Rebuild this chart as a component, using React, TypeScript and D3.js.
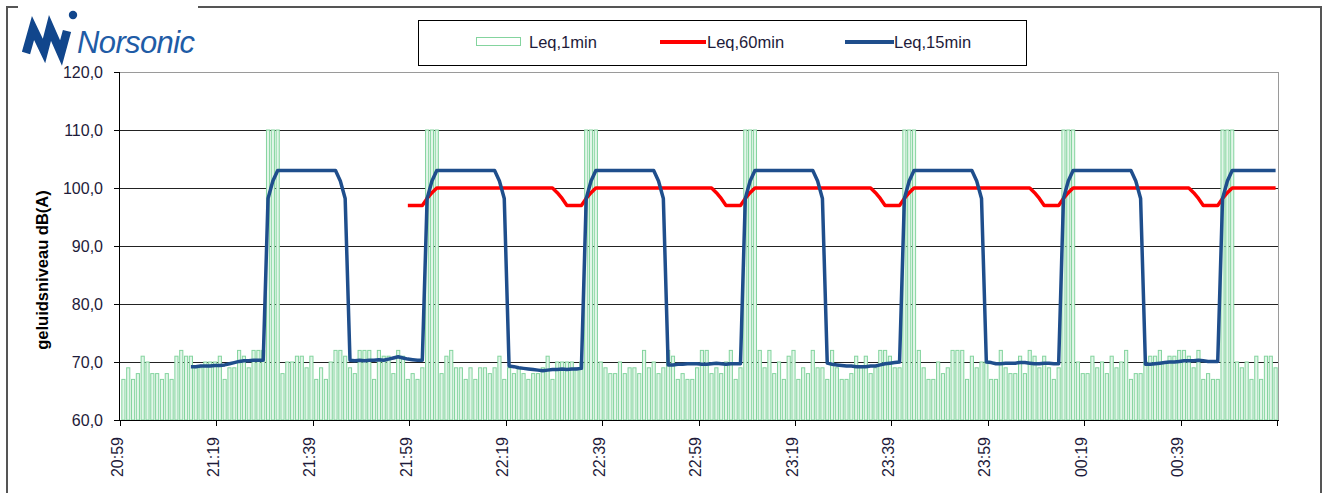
import React from "react";
import * as d3 from "d3";

// Leq,1min values (one bar per minute, 20:59 .. 00:58)
const leq1min: number[] = [
  67, 69, 67, 68, 71, 70, 68, 68, 67, 68,
  67, 71, 72, 71, 71, 69, 69, 70, 70, 70,
  71, 67, 69, 69, 72, 71, 69, 72, 72, 72,
  110, 110, 110, 68, 70, 70, 71, 71, 69, 71,
  67, 69, 67, 70, 72, 72, 71, 69, 68, 72,
  72, 72, 67, 72, 71, 71, 68, 72, 71, 67,
  68, 67, 69, 110, 110, 110, 68, 71, 72, 69,
  69, 67, 69, 67, 69, 69, 68, 69, 71, 67,
  69, 68, 69, 68, 67, 68, 68, 69, 71, 67,
  70, 70, 70, 70, 69, 70, 110, 110, 110, 70,
  69, 68, 68, 70, 68, 69, 69, 68, 72, 69,
  70, 68, 69, 72, 71, 67, 68, 67, 67, 69,
  72, 72, 68, 69, 68, 70, 72, 67, 69, 110,
  110, 110, 72, 69, 72, 68, 70, 67, 71, 72,
  67, 69, 68, 72, 69, 69, 67, 72, 69, 67,
  67, 68, 71, 69, 71, 68, 69, 72, 72, 71,
  69, 69, 110, 110, 110, 72, 69, 67, 67, 70,
  68, 69, 72, 72, 72, 67, 71, 69, 70, 70,
  67, 67, 72, 69, 68, 68, 71, 68, 72, 71,
  69, 71, 69, 67, 69, 110, 110, 110, 70, 68,
  68, 71, 69, 70, 68, 71, 69, 70, 72, 67,
  68, 68, 70, 71, 71, 72, 70, 71, 71, 72,
  72, 71, 69, 72, 67, 68, 67, 67, 110, 110,
  110, 70, 69, 70, 67, 71, 67, 71, 71, 69,
];

// Leq,15min: first value at minute index 14
const leq15Start = 14;
const leq15min: number[] = [
  69.2, 69.2, 69.3, 69.3, 69.3, 69.4, 69.4, 69.5, 69.7, 69.9, 70.1, 70.2, 70.2, 70.3, 70.3, 70.3,
  98.2, 101.2, 103, 103, 103, 103, 103, 103, 103, 103, 103, 103, 103, 103, 103, 101.2, 98.2,
  70.3, 70.2, 70.3, 70.2, 70.3, 70.3, 70.4, 70.3, 70.5, 70.7, 70.9, 70.7, 70.5, 70.4, 70.3, 70.3,
  98.2, 101.2, 103, 103, 103, 103, 103, 103, 103, 103, 103, 103, 103, 103, 103, 101.2, 98.2,
  69.3, 69.2, 69.0, 68.9, 68.8, 68.7, 68.6, 68.5, 68.6, 68.7, 68.7, 68.8, 68.7, 68.8, 68.8, 68.9,
  98.2, 101.2, 103, 103, 103, 103, 103, 103, 103, 103, 103, 103, 103, 103, 103, 101.2, 98.2,
  69.5, 69.5, 69.6, 69.6, 69.7, 69.7, 69.7, 69.6, 69.6, 69.7, 69.8, 69.7, 69.6, 69.7, 69.7, 69.7,
  98.2, 101.2, 103, 103, 103, 103, 103, 103, 103, 103, 103, 103, 103, 103, 103, 101.2, 98.2,
  69.8, 69.6, 69.5, 69.4, 69.3, 69.3, 69.2, 69.2, 69.2, 69.3, 69.3, 69.5, 69.7, 69.8, 69.9, 70.0,
  98.2, 101.2, 103, 103, 103, 103, 103, 103, 103, 103, 103, 103, 103, 103, 103, 101.2, 98.2,
  70.0, 69.9, 69.7, 69.7, 69.8, 69.8, 69.8, 69.9, 69.9, 69.8, 69.7, 69.7, 69.8, 69.8, 69.7, 69.7,
  98.2, 101.2, 103, 103, 103, 103, 103, 103, 103, 103, 103, 103, 103, 103, 103, 101.2, 98.2,
  69.6, 69.6, 69.7, 69.8, 69.9, 70.0, 70.0, 70.1, 70.2, 70.2, 70.2, 70.3, 70.2, 70.1, 70.1, 70.1,
  98.2, 101.2, 103, 103, 103, 103, 103, 103, 103, 103, 103, 103,
];

// Leq,60min: first value at minute index 59
const leq60Start = 59;
const leq60min: number[] = [
  97, 97, 97, 97, 98.2, 99.2,
  100, 100, 100, 100, 100, 100, 100, 100, 100, 100, 100, 100, 100, 100, 100, 100, 100, 100, 100, 100, 100, 100, 100, 100, 100,
  99.2, 98.2, 97, 97, 97, 97, 98.2, 99.2,
  100, 100, 100, 100, 100, 100, 100, 100, 100, 100, 100, 100, 100, 100, 100, 100, 100, 100, 100, 100, 100, 100, 100, 100, 100,
  99.2, 98.2, 97, 97, 97, 97, 98.2, 99.2,
  100, 100, 100, 100, 100, 100, 100, 100, 100, 100, 100, 100, 100, 100, 100, 100, 100, 100, 100, 100, 100, 100, 100, 100, 100,
  99.2, 98.2, 97, 97, 97, 97, 98.2, 99.2,
  100, 100, 100, 100, 100, 100, 100, 100, 100, 100, 100, 100, 100, 100, 100, 100, 100, 100, 100, 100, 100, 100, 100, 100, 100,
  99.2, 98.2, 97, 97, 97, 97, 98.2, 99.2,
  100, 100, 100, 100, 100, 100, 100, 100, 100, 100, 100, 100, 100, 100, 100, 100, 100, 100, 100, 100, 100, 100, 100, 100, 100,
  99.2, 98.2, 97, 97, 97, 97, 98.2, 99.2,
  100, 100, 100, 100, 100, 100, 100, 100, 100, 100,
];

const xTickLabels = [
  "20:59", "21:19", "21:39", "21:59", "22:19", "22:39",
  "22:59", "23:19", "23:39", "23:59", "00:19", "00:39",
];
const yTicks = [60, 70, 80, 90, 100, 110, 120];

const W = 1328;
const H = 493;
const left = 121;
const right = 1278;
const top = 72;
const bottom = 420;
const FONT = "'Liberation Sans', Arial, sans-serif";

export default function App() {
  const idx = d3.range(leq1min.length);
  const x = d3.scaleBand<number>().domain(idx).range([left, right]).paddingInner(0.14).paddingOuter(0.07);
  const y = d3.scaleLinear().domain([60, 120]).range([bottom, top]);
  const cx = (i: number) => (x(i) as number) + x.bandwidth() / 2;
  const tickX = (i: number) => left + i * ((right - left) / leq1min.length);

  const line = d3
    .line<[number, number]>()
    .x((d) => cx(d[0]))
    .y((d) => y(d[1]))
    .curve(d3.curveLinear);

  const l15: [number, number][] = leq15min.map((v, k) => [k + leq15Start, v]);
  const l60: [number, number][] = leq60min.map((v, k) => [k + leq60Start, v]);
  const fmt = (v: number) => d3.format(".1f")(v).replace(".", ",");
  const textColor = "#1e1b3a";
  const barStroke = "#84d49e";

  return (
    <svg width={W} height={H} style={{ position: "absolute", left: 0, top: 0, background: "#fff" }} fontFamily={FONT}>
      <rect x={0} y={0} width={W} height={H} fill="#fff" />
      {/* outer frame */}
      <path d={`M7,${H + 2} V7 H18 M198,7 H1321 V${H + 2}`} fill="none" stroke="#555" strokeWidth={2} />

      {/* logo */}
      <g>
        <polyline
          points="26,53 33,28 44,51 50,28 61,53 67,31"
          fill="none"
          stroke="#11468c"
          strokeWidth={8.5}
          strokeLinejoin="miter"
        />
        <circle cx={73} cy={15} r={4.2} fill="#11468c" />
        <text x={77} y={53} fontSize={31} fontStyle="italic" fill="#1f5ca6" textLength={118}>
          Norsonic
        </text>
      </g>

      {/* legend */}
      <rect x={418.5} y={20.5} width={608} height={45} fill="#fff" stroke="#000" strokeWidth={1} />
      <rect x={476.5} y={37.5} width={44} height={8} fill="#fff" stroke={barStroke} strokeWidth={1} />
      <text x={529} y={42} dy="0.35em" fontSize={16.5} fill={textColor}>Leq,1min</text>
      <line x1={660} x2={706} y1={42} y2={42} stroke="#ff0000" strokeWidth={4} />
      <text x={707} y={42} dy="0.35em" fontSize={16.5} fill={textColor}>Leq,60min</text>
      <line x1={845} x2={894} y1={42} y2={42} stroke="#1f4e8c" strokeWidth={4} />
      <text x={894} y={42} dy="0.35em" fontSize={16.5} fill={textColor}>Leq,15min</text>

      {/* plot border top/right */}
      <line x1={left - 1} x2={right} y1={top + 0.5} y2={top + 0.5} stroke="#9a9a9a" strokeWidth={1} />
      <line x1={right + 0.5} x2={right + 0.5} y1={top} y2={bottom} stroke="#9a9a9a" strokeWidth={1} />

      {/* gridlines */}
      {yTicks
        .filter((v) => v !== 60 && v !== 120)
        .map((v) => (
          <line key={v} x1={left - 1} x2={right} y1={Math.round(y(v)) + 0.5} y2={Math.round(y(v)) + 0.5} stroke="#222" strokeWidth={1} />
        ))}

      {/* bars */}
      {leq1min.map((v, i) => (
        <rect
          key={i}
          x={(x(i) as number) + 0.5}
          y={y(v)}
          width={Math.max(0.5, x.bandwidth() - 1)}
          height={bottom - y(v)}
          fill="#e2f6e9"
          stroke={barStroke}
          strokeWidth={1}
        />
      ))}

      {/* lines */}
      <path d={line(l60) || ""} fill="none" stroke="#ff0000" strokeWidth={3.5} strokeLinejoin="round" />
      <path d={line(l15) || ""} fill="none" stroke="#1f4e8c" strokeWidth={3.5} strokeLinejoin="round" />

      {/* y axis */}
      <line x1={left - 1.5} x2={left - 1.5} y1={top} y2={bottom} stroke="#000" strokeWidth={1} />
      {yTicks.map((v) => (
        <g key={v}>
          <line x1={left - 7} x2={left - 1} y1={Math.round(y(v)) + 0.5} y2={Math.round(y(v)) + 0.5} stroke="#000" strokeWidth={1} />
          <text x={103} y={y(v)} dy="0.35em" textAnchor="end" fontSize={16} fill={textColor}>
            {fmt(v)}
          </text>
        </g>
      ))}
      <text
        transform={`translate(42,${(top + bottom) / 2 + 24}) rotate(-90)`}
        textAnchor="middle"
        dy="0.35em"
        fontSize={16.5}
        fontWeight="bold"
        fill="#000"
      >
        geluidsniveau dB(A)
      </text>

      {/* x axis */}
      <line x1={left - 2} x2={right + 1} y1={bottom + 0.5} y2={bottom + 0.5} stroke="#000" strokeWidth={1} />
      {d3.range(0, leq1min.length + 1, 20).map((i) => (
        <line key={i} x1={Math.round(tickX(i)) - 0.5} x2={Math.round(tickX(i)) - 0.5} y1={bottom} y2={bottom + 6} stroke="#000" strokeWidth={1} />
      ))}
      {xTickLabels.map((lab, k) => (
        <text
          key={lab}
          transform={`translate(${tickX(k * 20) - 4},437) rotate(-90)`}
          textAnchor="end"
          dy="0.35em"
          fontSize={16}
          fill={textColor}
        >
          {lab}
        </text>
      ))}
    </svg>
  );
}
